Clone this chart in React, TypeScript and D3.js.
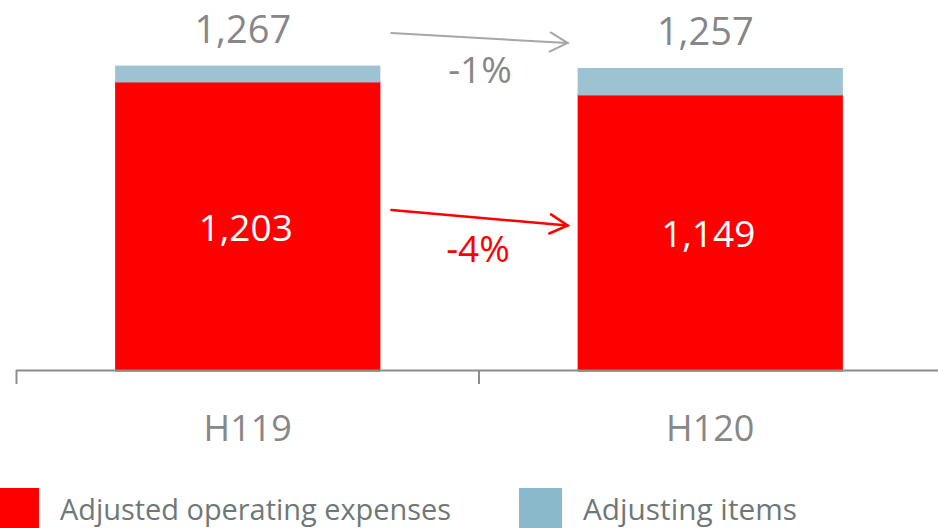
import React from "react";
import * as d3 from "d3";

const categories = ["H119", "H120"];
const adjustedOpex = [1203, 1149];
const adjustingItems = [64, 108];
const totals = [1267, 1257];
const totalChangeLabel = "-1%";
const opexChangeLabel = "-4%";
const seriesNames = ["Adjusted operating expenses", "Adjusting items"];

const W = 938;
const H = 528;
const RED = "#ff0000";
const BLUE = "#9dc3d3";
const BLUE_LEGEND = "#8bb9cc";
const GRAY_TEXT = "#878787";
const AXIS = "#8c8c8c";
const FONT = "'Open Sans', 'Noto Sans', sans-serif";

export default function App() {
  const x = d3
    .scaleBand<string>()
    .domain(categories)
    .range([16.5, 941.5])
    .paddingInner(0.4265)
    .paddingOuter(0.21325);
  const y = d3.scaleLinear().domain([0, 1540]).range([370, 0]);

  const stackData = categories.map((c, i) => ({
    cat: c,
    opex: adjustedOpex[i],
    adj: adjustingItems[i],
  }));
  const stack = d3.stack<any>().keys(["opex", "adj"]);
  const series = stack(stackData);
  const colors = [RED, BLUE];

  const bw = x.bandwidth();
  const x0 = x(categories[0])!;
  const x1 = x(categories[1])!;

  const arrow = (
    sx: number,
    sy: number,
    ex: number,
    ey: number,
    color: string,
    sw: number
  ) => {
    const ang = Math.atan2(ey - sy, ex - sx);
    const len = 20;
    const spread = 0.5;
    const a1 = ang + Math.PI - spread;
    const a2 = ang + Math.PI + spread;
    return (
      <g stroke={color} strokeWidth={sw} fill="none" strokeLinecap="round">
        <line x1={sx} y1={sy} x2={ex} y2={ey} />
        <polyline
          points={`${ex + len * Math.cos(a1)},${ey + len * Math.sin(a1)} ${ex},${ey} ${
            ex + len * Math.cos(a2)
          },${ey + len * Math.sin(a2)}`}
        />
      </g>
    );
  };

  const arrStartX = x0 + bw + 11;
  const arrEndX = x1 - 10;

  return (
    <svg
      width={W}
      height={H}
      style={{ position: "absolute", left: 0, top: 0, display: "block" }}
      fontFamily={FONT}
    >
      <rect width={W} height={H} fill="#fff" />
      {series.map((s, si) => (
        <g key={si} fill={colors[si]}>
          {s.map((d, i) => (
            <rect
              key={i}
              x={x(categories[i])}
              y={y(d[1])}
              width={bw}
              height={y(d[0]) - y(d[1]) + 1.5}
            />
          ))}
        </g>
      ))}

      {/* axis */}
      <line x1={16} x2={W} y1={370.5} y2={370.5} stroke={AXIS} strokeWidth={2} />
      {[16.5, x0 + bw + (x1 - x0 - bw) / 2].map((tx, i) => (
        <line key={i} x1={tx} x2={tx} y1={370} y2={384} stroke={AXIS} strokeWidth={2} />
      ))}
      {categories.map((c) => (
        <text
          key={c}
          x={x(c)! + bw / 2}
          y={441}
          textAnchor="middle"
          fontSize={36}
          fill={GRAY_TEXT}
        >
          {c}
        </text>
      ))}

      {/* total labels */}
      {categories.map((c, i) => (
        <text
          key={c}
          x={x(c)! + bw / 2 - 5}
          y={y(totals[i]) - 23}
          textAnchor="middle"
          fontSize={38}
          fill={GRAY_TEXT}
        >
          {d3.format(",")(totals[i])}
        </text>
      ))}

      {/* inner labels */}
      {categories.map((c, i) => (
        <text
          key={c}
          x={x(c)! + bw / 2 - 2}
          y={(y(adjustedOpex[i]) + y(0)) / 2 + 15.5}
          textAnchor="middle"
          fontSize={37}
          fill="#fff"
        >
          {d3.format(",")(adjustedOpex[i])}
        </text>
      ))}

      {/* arrows */}
      {arrow(arrStartX, y(totals[0]) - 32.5, arrEndX, y(totals[1]) - 25, "#a6a6a6", 2)}
      <text x={480} y={83} textAnchor="middle" fontSize={37} fill={GRAY_TEXT}>
        {totalChangeLabel}
      </text>
      {arrow(
        arrStartX,
        (y(adjustedOpex[0]) + y(0)) / 2 - 15.5,
        arrEndX,
        (y(adjustedOpex[1]) + y(0)) / 2 - 6.5,
        RED,
        2.5
      )}
      <text x={478} y={262} textAnchor="middle" fontSize={37} fill={RED}>
        {opexChangeLabel}
      </text>

      {/* legend */}
      <rect x={0} y={488} width={39} height={40} fill={RED} />
      <text
        x={60}
        y={520}
        fontSize={29}
        fill="#6f7878"
        textLength={391}
        lengthAdjust="spacingAndGlyphs"
      >
        {seriesNames[0]}
      </text>
      <rect x={519} y={488} width={43} height={40} fill={BLUE_LEGEND} />
      <text
        x={583}
        y={520}
        fontSize={29}
        fill="#6f7878"
        textLength={214}
        lengthAdjust="spacingAndGlyphs"
      >
        {seriesNames[1]}
      </text>
    </svg>
  );
}
